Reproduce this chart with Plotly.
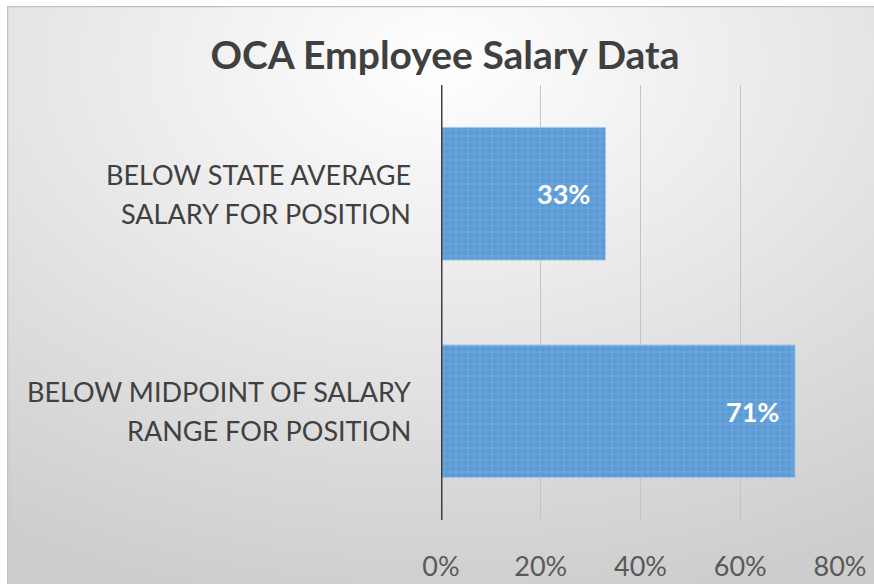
import plotly.graph_objects as go
import base64

categories = ["BELOW STATE AVERAGE SALARY FOR POSITION", "BELOW MIDPOINT OF SALARY RANGE FOR POSITION"]
category_lines = [["BELOW STATE AVERAGE", "SALARY FOR POSITION"], ["BELOW MIDPOINT OF SALARY", "RANGE FOR POSITION"]]
values = [0.33, 0.71]
labels = ["33%", "71%"]
tick_vals = [0, 0.2, 0.4, 0.6, 0.8]
tick_text = ["0%", "20%", "40%", "60%", "80%"]

W, H = 874, 584
OX, OY = 7, 6  # white edge of the chart frame
svg = ('<svg xmlns="http://www.w3.org/2000/svg" width="874" height="584">'
       '<defs><radialGradient id="g" cx="0.5" cy="0.1" r="0.95">'
       '<stop offset="0" stop-color="#ffffff"/><stop offset="1" stop-color="#cdcdcd"/>'
       '</radialGradient></defs><rect x="0" y="0" width="874" height="584" fill="url(#g)"/>'
       '<rect x="0.5" y="0.5" width="900" height="900" fill="none" stroke="#c0c0c0" stroke-width="1.5"/></svg>')
bg = "data:image/svg+xml;base64," + base64.b64encode(svg.encode()).decode()

L, R, T, B = 441, 34, 85, 64
PW = W - L - R
PH = H - T - B

fig = go.Figure()
fig.add_trace(go.Bar(
    y=categories, x=values, orientation="h",
    marker=dict(color="#5b9bd5", line=dict(color="#a9c9ea", width=1),
                pattern=dict(shape="+", fgcolor="#8fbbe6", size=6, solidity=0.25)),
    width=0.61, hoverinfo="skip",
))

annotations = []
for cat, v, lab in zip(categories, values, labels):
    annotations.append(dict(x=v, y=cat, xref="x", yref="y", text="<b>" + lab + "</b>",
                            showarrow=False, xanchor="right", yanchor="middle", xshift=-14,
                            font=dict(family="Lato", size=27, color="white")))
for cat, lines in zip(categories, category_lines):
    for i, line in enumerate(lines):
        annotations.append(dict(x=0, y=cat, xref="paper", yref="y", text=line,
                                showarrow=False, xanchor="right", yanchor="middle",
                                xshift=-28, yshift=19.5 - 39 * i,
                                font=dict(family="Lato", size=27, color="#404040")))

fig.update_layout(
    width=W, height=H,
    margin=dict(l=L, r=R, t=T, b=B, autoexpand=False),
    paper_bgcolor="#ffffff", plot_bgcolor="rgba(0,0,0,0)",
    title=dict(text="<b>OCA Employee Salary Data</b>", x=(445 - L) / PW, xref="paper",
               xanchor="center", y=1 - 55 / H, yanchor="middle",
               font=dict(family="Lato", size=39, color="#404040")),
    showlegend=False,
    images=[dict(source=bg, xref="paper", yref="paper", x=(OX - L) / PW, y=1 + (T - OY) / PH,
                 sizex=(W - OX) / PW, sizey=(H - OY) / PH, xanchor="left", yanchor="top",
                 sizing="stretch", layer="below")],
    xaxis=dict(range=[0, 0.8], tickvals=tick_vals, ticktext=tick_text,
               showgrid=True, gridcolor="#c4c4c4", gridwidth=1,
               zeroline=False, showline=False, ticks="", automargin=False,
               tickfont=dict(family="Lato", size=27, color="#595959"),
               ticklabelstandoff=28),
    yaxis=dict(categoryorder="array", categoryarray=categories, autorange="reversed",
               showgrid=False, zeroline=False, showline=False, ticks="", automargin=False,
               showticklabels=False),
    annotations=annotations,
    shapes=[dict(type="line", xref="x", yref="paper", x0=0, x1=0, y0=0, y1=1,
                 line=dict(color="#404040", width=3))],
)

fig.write_html("out.html", config={"displayModeBar": False},
               post_script="document.body.style.margin='0';document.body.style.overflow='hidden';")
